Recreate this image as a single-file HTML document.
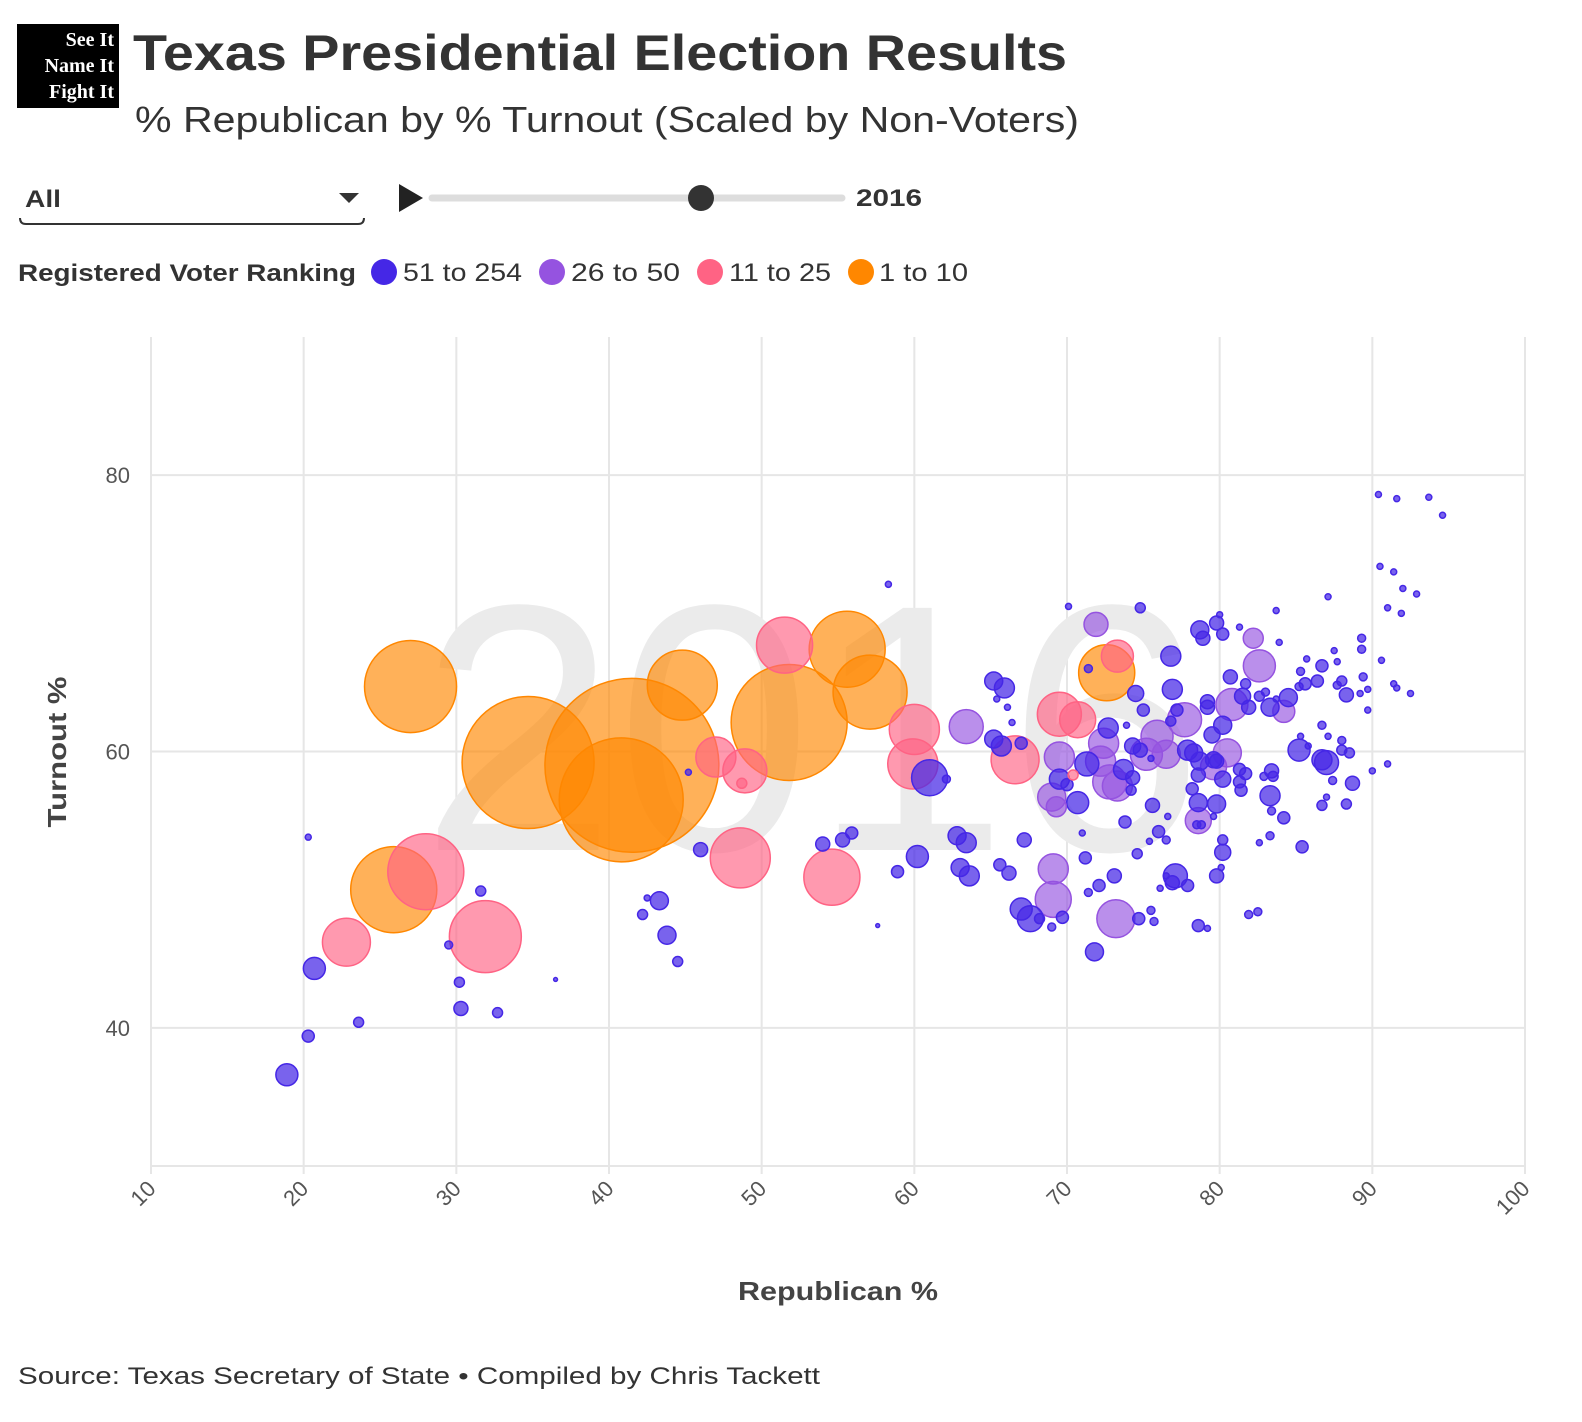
<!DOCTYPE html>
<html><head><meta charset="utf-8">
<style>
html,body{margin:0;padding:0;background:#fff;}
svg{display:block;font-family:"Liberation Sans",sans-serif;}
</style></head>
<body>
<svg id="chart" width="1582" height="1422" viewBox="0 0 1582 1422">
  <g>
    <rect x="17" y="24" width="102" height="84" fill="#000"/>
    <text x="114" y="46" fill="#fff" font-family="Liberation Serif,serif" font-weight="bold" font-size="20" text-anchor="end">See It</text>
    <text x="114" y="72" fill="#fff" font-family="Liberation Serif,serif" font-weight="bold" font-size="20" text-anchor="end">Name It</text>
    <text x="114" y="98" fill="#fff" font-family="Liberation Serif,serif" font-weight="bold" font-size="20" text-anchor="end">Fight It</text>
  </g>
  <text x="133" y="70" font-size="50" font-weight="bold" fill="#333" textLength="934" lengthAdjust="spacingAndGlyphs">Texas Presidential Election Results</text>
  <text x="135" y="132" font-size="36" fill="#333" textLength="944" lengthAdjust="spacingAndGlyphs">% Republican by % Turnout (Scaled by Non-Voters)</text>

  <g>
    <text x="25" y="207" font-size="24" font-weight="bold" fill="#333" textLength="36" lengthAdjust="spacingAndGlyphs">All</text>
    <path d="M339 193 L359 193 L349 203 Z" fill="#333"/>
    <path d="M20 218 Q20 224 26 224 L358 224 Q364 224 364 218" fill="none" stroke="#333" stroke-width="2"/>
  </g>
  <path d="M399 184 L423 198 L399 212 Z" fill="#222"/>
  <g>
    <line x1="432" y1="198" x2="842" y2="198" stroke="#ddd" stroke-width="7" stroke-linecap="round"/>
    <circle cx="701" cy="198" r="13" fill="#333"/>
  </g>
  <text x="856" y="206" font-size="24" font-weight="bold" fill="#333" textLength="66" lengthAdjust="spacingAndGlyphs">2016</text>

  <g>
    <text x="18" y="281" font-size="24" font-weight="bold" fill="#333" textLength="338" lengthAdjust="spacingAndGlyphs">Registered Voter Ranking</text>
    <g><circle cx="384" cy="272" r="13" fill="#4527e6"/><text x="403" y="281" font-size="25" fill="#333" textLength="119" lengthAdjust="spacingAndGlyphs">51 to 254</text></g>
    <g><circle cx="552" cy="272" r="13" fill="#9553e0"/><text x="571" y="281" font-size="25" fill="#333" textLength="109" lengthAdjust="spacingAndGlyphs">26 to 50</text></g>
    <g><circle cx="710" cy="272" r="13" fill="#ff6384"/><text x="729" y="281" font-size="25" fill="#333" textLength="102" lengthAdjust="spacingAndGlyphs">11 to 25</text></g>
    <g><circle cx="861" cy="272" r="13" fill="#ff8700"/><text x="879" y="281" font-size="25" fill="#333" textLength="89" lengthAdjust="spacingAndGlyphs">1 to 10</text></g>
  </g>

  <g id="grid"></g>
  <text x="812" y="850" font-size="352" fill="#ebebeb" text-anchor="middle">2016</text>
  <g id="axes"></g>
  <g id="marks"></g>

  <text transform="translate(66,752) rotate(-90)" font-size="26" font-weight="bold" fill="#444" text-anchor="middle" textLength="151" lengthAdjust="spacingAndGlyphs">Turnout %</text>
  <text x="838" y="1300" font-size="26" font-weight="bold" fill="#444" text-anchor="middle" textLength="200" lengthAdjust="spacingAndGlyphs">Republican %</text>
  <text x="18" y="1384" font-size="24" fill="#333" textLength="802" lengthAdjust="spacingAndGlyphs">Source: Texas Secretary of State • Compiled by Chris Tackett</text>
</svg>
<script>
const xTicks = [10,20,30,40,50,60,70,80,90,100];
const yTicks = [40,60,80];
const groupNames = ['51 to 254','26 to 50','11 to 25','1 to 10'];
const groupColors = ['#4527e6','#9553e0','#ff6384','#ff8700'];

const blueRep = [65.9,66.1,66.4,70.1,74.8,71.4,65.7,67.0,72.7,74.3,74.8,75.5,71.3,69.5,70.0,70.7,73.7,74.3,74.2,74.5,75.0,73.9,76.8,76.9,77.2,76.8,78.7,78.9,79.8,80.2,80.0,81.3,83.7,83.9,87.1,91.4,92.9,91.9,89.3,89.3,90.6,87.5,87.7,85.7,86.7,85.3,85.6,86.4,85.2,84.5,83.3,83.7,83.0,82.6,81.7,81.5,80.7,81.9,79.2,79.2,80.2,79.5,88.0,87.7,88.3,89.4,89.7,89.7,91.4,92.5,86.7,87.1,85.3,85.2,85.8,88.0,88.0,88.5,86.7,87.0,87.4,88.7,90.0,87.0,86.7,88.3,85.4,83.4,82.9,83.5,83.3,83.4,84.2,83.3,82.6,77.9,78.3,78.7,79.6,79.8,78.6,78.2,78.6,79.8,80.2,79.6,81.3,81.7,81.3,81.4,78.5,78.8,80.2,80.2,80.1,79.8,77.1,76.9,77.9,76.5,76.1,76.6,75.6,73.8,76.0,76.5,75.4,74.6,71.0,71.2,73.1,71.4,67.2,63.4,63.6,66.2,67.6,69.7,69.0,74.7,75.5,75.7,78.6,79.2,81.9,82.5,18.9,20.3,20.7,23.6,20.3,29.5,31.6,30.2,30.3,32.7,36.5,42.2,43.3,43.8,44.5,42.5,45.2,46.0,54.0,55.3,55.9,57.6,58.3,58.9,60.2,61.0,62.1,62.8,63.0,65.2,65.4,65.2,65.6,67.0,68.2,71.8,72.1,90.4,91.6,93.7,94.6,90.5,91.0,92.0,91.6,91.0,89.2];
const blueTurnout = [64.6,63.2,62.1,70.5,70.4,66.0,60.4,60.6,61.7,60.4,60.1,59.5,59.1,58.0,57.6,56.3,58.7,58.1,57.2,64.2,63.0,61.9,66.9,64.5,63.0,62.2,68.8,68.2,69.3,68.5,69.9,69.0,70.2,67.9,71.2,73.0,71.4,70.0,68.2,67.4,66.6,67.3,66.5,66.7,66.2,65.8,64.9,65.1,64.7,63.9,63.2,63.8,64.3,64.0,64.9,64.0,65.4,63.2,63.6,63.2,61.9,61.2,65.1,64.8,64.1,65.4,64.5,63.0,64.9,64.2,61.9,61.1,61.1,60.1,60.4,60.8,60.1,59.9,59.4,59.2,57.9,57.7,58.6,56.7,56.1,56.2,53.1,58.6,58.2,58.2,56.8,55.7,55.2,53.9,53.4,60.1,59.9,59.3,59.4,59.3,58.3,57.3,56.3,56.2,58.0,55.3,58.7,58.4,57.8,57.2,54.7,54.7,53.6,52.7,51.6,51.0,51.0,50.5,50.3,51.0,50.1,55.3,56.1,54.9,54.2,53.6,53.5,52.6,54.1,52.3,51.0,49.8,53.6,53.4,51.0,51.2,47.9,48.0,47.3,47.9,48.5,47.7,47.4,47.2,48.2,48.4,36.6,39.4,44.3,40.4,53.8,46.0,49.9,43.3,41.4,41.1,43.5,48.2,49.2,46.7,44.8,49.4,58.5,52.9,53.3,53.6,54.1,47.4,72.1,51.3,52.4,58.1,58.0,53.9,51.6,65.1,63.8,60.9,51.8,48.6,47.9,45.5,50.3,78.6,78.3,78.4,77.1,73.4,70.4,71.8,64.6,59.1,64.2];
const blueNonVoters = [13.2,1.2,1.2,1.2,3.3,2.1,13.2,4.8,13.2,8.5,6.5,1.2,19,13.2,4.8,16,13.2,6.5,3.3,8.5,4.8,1.2,13.2,13.2,4.8,3.3,10.7,6.5,6.5,4.8,1.2,1.2,1.2,1.2,1.2,1.2,1.2,1.2,2.1,2.1,1.2,1.2,1.2,1.2,4.8,2.1,4.8,4.8,2.1,10.7,10.7,1.2,2.1,3.3,3.3,8.5,6.5,6.5,6.5,6.5,10.7,8.5,3.3,2.1,6.5,2.1,1.2,1.2,1.2,1.2,2.1,1.2,1.2,16,1.2,2.1,3.3,3.3,13.2,19,2.1,6.5,1.2,1.2,3.3,3.3,4.8,6.5,2.1,3.3,13.2,2.1,4.8,2.1,1.2,13.2,10.7,10.7,8.5,6.5,6.5,4.8,10.7,10.7,8.5,1.2,4.8,4.8,4.8,4.8,2.1,2.1,3.3,8.5,1.2,6.5,19,6.5,4.8,1.2,1.2,1.2,6.5,4.8,4.8,2.1,1.2,3.3,1.2,4.8,6.5,2.1,6.5,13.2,13.2,6.5,22.3,4.8,2.1,4.8,2.1,2.1,4.8,1.2,2.1,2.1,16,4.8,16,3.3,1.2,2.1,3.3,3.3,6.5,3.3,0.5,3.3,10.7,10.7,3.3,1.2,1.2,6.5,6.5,6.5,4.8,0.5,1.2,4.8,16,42.8,2.1,10.7,10.7,10.7,1.2,10.7,4.8,16,3.3,10.7,4.8,1.2,1.2,1.2,1.2,1.2,1.2,1.2,1.2,1.2,1.2];

const purpleRep = [63.4,71.9,69.5,72.4,72.2,72.8,73.3,69.0,69.3,75.9,75.2,76.5,77.7,80.8,82.2,82.6,84.2,80.5,79.6,78.6,69.1,69.1,73.2];
const purpleTurnout = [61.8,69.2,59.6,60.6,59.3,57.8,57.5,56.7,56.0,61.1,59.8,59.8,62.3,63.4,68.2,66.2,62.9,59.9,58.9,55.0,51.5,49.3,47.9];
const purpleNonVoters = [38.2,19,29.8,29.8,29.8,38.2,29.8,26,13.2,33.9,33.9,26,38.2,33.9,13.2,33.9,16,26,22.3,22.3,29.8,42.8,47.7];

const pinkRep = [22.8,28.0,31.9,51.5,47.0,48.9,48.7,48.6,54.6,60.0,59.9,66.6,69.5,70.7,73.3,70.4];
const pinkTurnout = [46.2,51.3,46.6,67.7,59.6,58.6,57.7,52.3,50.9,61.6,59.1,59.4,62.7,62.3,66.9,58.3];
const pinkNonVoters = [76,191,171,104,52.9,64,3.3,119,104,83,83,76,64,42.8,33.9,3.3];

const orangeRep = [27.0,34.7,41.5,40.8,44.8,51.8,55.6,57.1,25.9,72.6];
const orangeTurnout = [64.7,59.2,59.0,56.5,64.8,62.1,67.4,64.3,50.0,65.7];
const orangeNonVoters = [280,576,1000,508,162,445,191,181,245,104];

const NS = 'http://www.w3.org/2000/svg';
const plotLeft = 151, plotRight = 1525, plotTop = 337, plotBottom = 1166;
const xMin = 10, xMax = 100, yMin = 30, yMax = 90;
function xScale(v){ return plotLeft + (v - xMin) / (xMax - xMin) * (plotRight - plotLeft); }
function yScale(v){ return plotBottom - (v - yMin) / (yMax - yMin) * (plotBottom - plotTop); }
function rScale(nv){ return 2.75 * Math.sqrt(nv); }

const grid = document.getElementById('grid');
const axes = document.getElementById('axes');
xTicks.forEach(function(t){
  const l = document.createElementNS(NS,'line');
  
  
  l.setAttribute('x1', xScale(t)); l.setAttribute('x2', xScale(t));
  l.setAttribute('y1', plotTop); l.setAttribute('y2', plotBottom + 8);
  l.setAttribute('stroke', '#e6e6e6'); l.setAttribute('stroke-width', '2');
  grid.appendChild(l);
  const tx = document.createElementNS(NS,'text');
  
  
  const px = xScale(t) + 6, py = plotBottom + 24;
  tx.setAttribute('transform', 'translate(' + px + ',' + py + ') rotate(-45)');
  tx.setAttribute('text-anchor', 'end');
  tx.setAttribute('font-size', '22');
  tx.setAttribute('fill', '#555');
  tx.textContent = t;
  axes.appendChild(tx);
});
yTicks.forEach(function(t){
  const l = document.createElementNS(NS,'line');
  
  
  l.setAttribute('x1', plotLeft); l.setAttribute('x2', plotRight);
  l.setAttribute('y1', yScale(t)); l.setAttribute('y2', yScale(t));
  l.setAttribute('stroke', '#e6e6e6'); l.setAttribute('stroke-width', '2');
  grid.appendChild(l);
  const tx = document.createElementNS(NS,'text');
  
  
  tx.setAttribute('x', 130); tx.setAttribute('y', yScale(t) + 8);
  tx.setAttribute('text-anchor', 'end');
  tx.setAttribute('font-size', '22');
  tx.setAttribute('fill', '#555');
  tx.textContent = t;
  axes.appendChild(tx);
});
const baseLine = document.createElementNS(NS,'line');


baseLine.setAttribute('x1', plotLeft); baseLine.setAttribute('x2', plotRight);
baseLine.setAttribute('y1', plotBottom); baseLine.setAttribute('y2', plotBottom);
baseLine.setAttribute('stroke', '#e6e6e6'); baseLine.setAttribute('stroke-width', '2');
grid.appendChild(baseLine);

const series = [
  [blueRep, blueTurnout, blueNonVoters, 0],
  [purpleRep, purpleTurnout, purpleNonVoters, 1],
  [pinkRep, pinkTurnout, pinkNonVoters, 2],
  [orangeRep, orangeTurnout, orangeNonVoters, 3]
];
const pts = [];
series.forEach(function(s){
  for (let i = 0; i < s[0].length; i++) pts.push({x: s[0][i], y: s[1][i], nv: s[2][i], g: s[3]});
});
pts.sort(function(a,b){ return b.nv - a.nv; });
const marks = document.getElementById('marks');
pts.forEach(function(p){
  const c = document.createElementNS(NS,'circle');
  
  
  c.setAttribute('cx', xScale(p.x));
  c.setAttribute('cy', yScale(p.y));
  c.setAttribute('r', rScale(p.nv));
  c.setAttribute('fill', groupColors[p.g]);
  c.setAttribute('fill-opacity', p.g === 0 ? '0.72' : '0.65');
  c.setAttribute('stroke', groupColors[p.g]);
  c.setAttribute('stroke-width', '1.5');
  const t = document.createElementNS(NS,'title');
  t.textContent = groupNames[p.g] + ': ' + p.x + '% R, ' + p.y + '% turnout';
  c.appendChild(t);
  marks.appendChild(c);
});
</script>
</body></html>
